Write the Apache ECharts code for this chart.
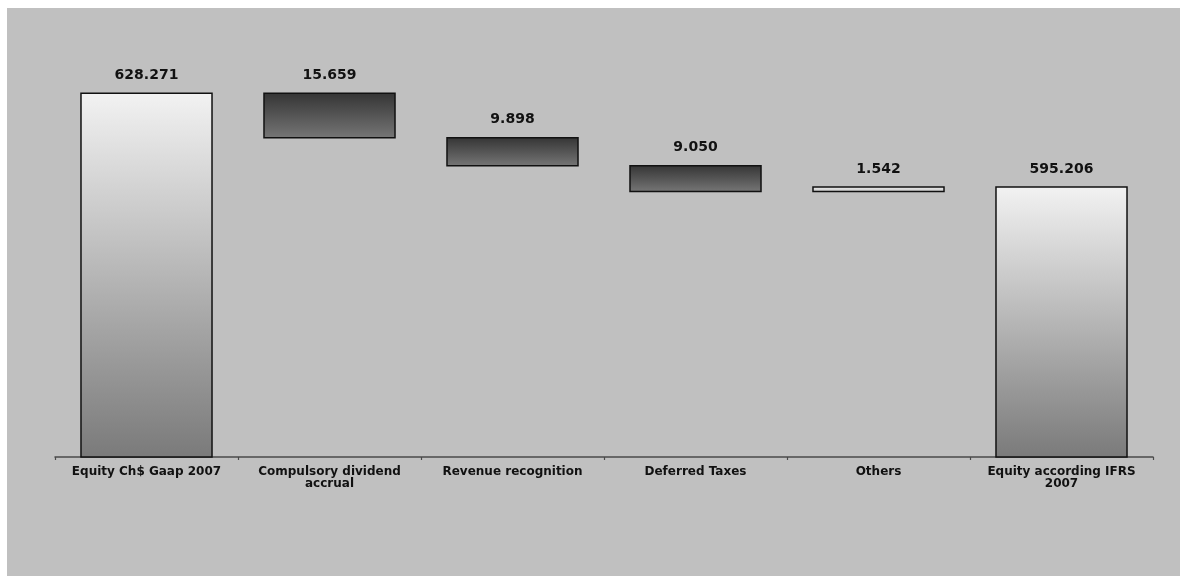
<!DOCTYPE html>
<html>
<head>
<meta charset="utf-8">
<script src="https://cdn.jsdelivr.net/npm/echarts@6/dist/echarts.min.js"></script>
<style>
  html, body { margin: 0; padding: 0; background: #ffffff; width: 1180px; height: 576px; overflow: hidden; }
  #chart { position: absolute; left: 7px; top: 8px; width: 1173px; height: 568px; background: #c0c0c0; }
</style>
</head>
<body>
<div id="chart"></div>
<script>
// ---- data ----
const categories = ['Equity Ch$ Gaap 2007', 'Compulsory dividend\naccrual', 'Revenue recognition', 'Deferred Taxes', 'Others', 'Equity according IFRS\n2007'];
// kind: 'total' = full bar, 'delta' = change from running total
const kinds = ['total', 'delta', 'delta', 'delta', 'delta', 'total'];
const changes = [628.271, -15.659, -9.898, -9.050, 1.542, 595.206];
const labels = ['628.271', '15.659', '9.898', '9.050', '1.542', '595.206'];

// ---- build waterfall ranges ----
let running = 0;
const rows = changes.map((v, i) => {
  let lo, hi, type;
  if (kinds[i] === 'total') { running = v; lo = 0; hi = v; type = 0; }
  else {
    const prev = running; running = prev + v;
    lo = Math.min(prev, running); hi = Math.max(prev, running);
    type = v < 0 ? 1 : 2;
  }
  return [i, lo, hi, type, labels[i]];
});

const fills = {
  0: new echarts.graphic.LinearGradient(0, 0, 0, 1, [{offset: 0, color: '#f2f2f2'}, {offset: 1, color: '#7a7a7a'}]),
  1: new echarts.graphic.LinearGradient(0, 0, 0, 1, [{offset: 0, color: '#343434'}, {offset: 1, color: '#767676'}]),
  2: new echarts.graphic.LinearGradient(0, 0, 0, 1, [{offset: 0, color: '#f0f0f0'}, {offset: 1, color: '#c4c4c4'}])
};

const chart = echarts.init(document.getElementById('chart'));
chart.setOption({
  animation: false,
  grid: { left: 48, right: 27, top: 52, bottom: 119 },
  xAxis: {
    type: 'category',
    data: categories,
    axisLine: { lineStyle: { color: '#4a4a4a', width: 1.5 } },
    axisTick: { show: true, length: 3, lineStyle: { color: '#4a4a4a', width: 1.2 } },
    axisLabel: {
      interval: 0, margin: 9, color: '#111',
      fontFamily: 'DejaVu Sans', fontWeight: 'bold', fontSize: 12, lineHeight: 12
    }
  },
  yAxis: {
    type: 'value', min: 500, max: 640, show: false, splitLine: { show: false }
  },
  series: [{
    type: 'custom',
    data: rows,
    encode: { x: 0, y: [1, 2] },
    renderItem: function (params, api) {
      const i = api.value(0), lo = api.value(1), hi = api.value(2), t = api.value(3);
      const cs = params.coordSys;
      const pTop = api.coord([i, hi]);
      const pBot = api.coord([i, lo]);
      const bottom = Math.min(pBot[1], cs.y + cs.height);
      const w = api.size([1, 0])[0] * 0.716;
      return {
        type: 'group',
        children: [
          {
            type: 'rect',
            shape: { x: pTop[0] - w / 2, y: pTop[1], width: w, height: bottom - pTop[1] },
            style: { fill: fills[t], stroke: '#111', lineWidth: 1.5 }
          },
          {
            type: 'text',
            style: {
              x: pTop[0], y: pTop[1] - 18,
              text: labels[params.dataIndex],
              align: 'center', verticalAlign: 'middle',
              fill: '#111', font: 'bold 14px "DejaVu Sans"'
            }
          }
        ]
      };
    }
  }]
});
</script>
</body>
</html>
